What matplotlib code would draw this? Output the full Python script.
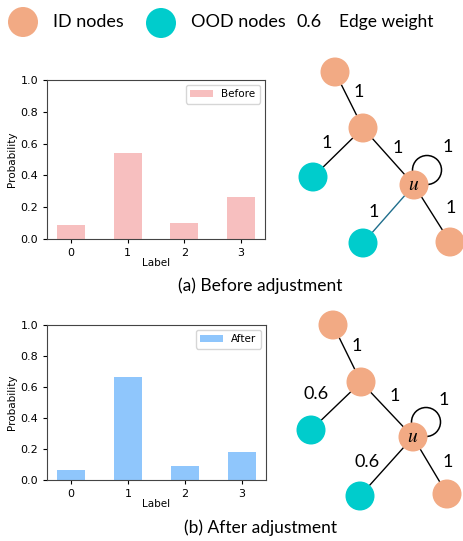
import matplotlib
matplotlib.use("Agg")
import matplotlib.pyplot as plt
from matplotlib.patches import Circle

# bar chart data
labels = [0, 1, 2, 3]
prob_before = [0.09, 0.54, 0.10, 0.265]
prob_after = [0.065, 0.665, 0.09, 0.18]

# graph: edges (node a, node b) and their weights before / after
edges = [("top", "mid"), ("mid", "oodL"), ("mid", "u"), ("u", "u"), ("u", "oodB"), ("u", "idB")]
w_before = [1, 1, 1, 1, 1, 1]
w_after = [1, 0.6, 1, 1, 0.6, 1]

ID_COL = "#f2aa84"
OOD_COL = "#00cccc"
TXT = "Lato"

W, H = 464, 541
fig = plt.figure(figsize=(W / 100, H / 100), dpi=100)


def bar_panel(rect, vals, color, name):
    ax = fig.add_axes(rect)
    ax.bar(labels, vals, width=0.5, color=color, label=name)
    ax.set_ylim(0, 1.0)
    ax.set_xticks(labels)
    ax.tick_params(labelsize=8, length=3, width=0.8)
    ax.set_xlabel("Label", fontsize=7.5, labelpad=0)
    ax.set_ylabel("Probability", fontsize=7.5, labelpad=2)
    ax.legend(loc="upper right", fontsize=7.5, handlelength=2.2)
    for s in ax.spines.values():
        s.set_color("#444444")
        s.set_linewidth(0.8)
    return ax


bar_panel([47 / W, 1 - 239 / H, 218 / W, 159 / H], prob_before, "#f7bfbf", "Before")
bar_panel([47 / W, 1 - 480 / H, 219 / W, 155 / H], prob_after, "#8fc6fc", "After")

# overlay in pixel coords for graphs / legend / captions
ov = fig.add_axes([0, 0, 1, 1])
ov.set_xlim(0, W)
ov.set_ylim(H, 0)
ov.axis("off")

R = 14.5

# header legend
ov.add_patch(Circle((23, 22), 15, color=ID_COL, lw=0))
ov.text(53, 22, "ID nodes", fontsize=13, family=TXT, va="center")
ov.add_patch(Circle((161, 23), 15, color=OOD_COL, lw=0))
ov.text(191, 22, "OOD nodes", fontsize=13, family=TXT, va="center")
ov.text(297, 22, "0.6", fontsize=13, family=TXT, va="center")
ov.text(339, 22, "Edge weight", fontsize=12.5, family=TXT, va="center")


def graph(pos, loop, lab_pos, weights, blue_edge):
    for k, ((a, b), w) in enumerate(zip(edges, weights)):
        lx, ly = lab_pos[k]
        ov.text(lx, ly, f"{w:g}", fontsize=13, family=TXT, ha="center", va="center")
        if a == b:
            cx, cy = loop
            ov.add_patch(Circle((cx, cy), 14.5, fill=False, ec="black", lw=1.1, zorder=1))
            continue
        col = "#1f6e8c" if (blue_edge and b == "oodB") else "black"
        ov.plot([pos[a][0], pos[b][0]], [pos[a][1], pos[b][1]], color=col, lw=1.0, zorder=1)
    for n, (x, y) in pos.items():
        c = OOD_COL if n.startswith("ood") else ID_COL
        ov.add_patch(Circle((x, y), R, color=c, lw=0, zorder=2))
    ux, uy = pos["u"]
    ov.text(ux, uy - 1, r"$u$", fontsize=14, ha="center", va="center", zorder=3,
            math_fontfamily="stix")


pos_a = {"top": (335, 72), "mid": (363, 128), "oodL": (313, 177), "u": (414, 185),
         "oodB": (363, 243), "idB": (450, 242)}
lab_a = [(359, 92), (327, 143), (398, 148), (448, 147), (374, 212), (451, 208)]
graph(pos_a, (427, 170), lab_a, w_before, True)

pos_b = {"top": (333, 325), "mid": (361, 382), "oodL": (311, 430), "u": (413, 437),
         "oodB": (360, 496), "idB": (447, 494)}
lab_b = [(357, 346), (316, 394), (395, 396), (444, 400), (367, 462), (448, 462)]
graph(pos_b, (426, 422), lab_b, w_after, False)

ov.text(260, 286, "(a) Before adjustment", fontsize=12.5, family=TXT, ha="center", va="center")
ov.text(261, 528, "(b) After adjustment", fontsize=12.5, family=TXT, ha="center", va="center")

fig.savefig("out.png", dpi=100)
